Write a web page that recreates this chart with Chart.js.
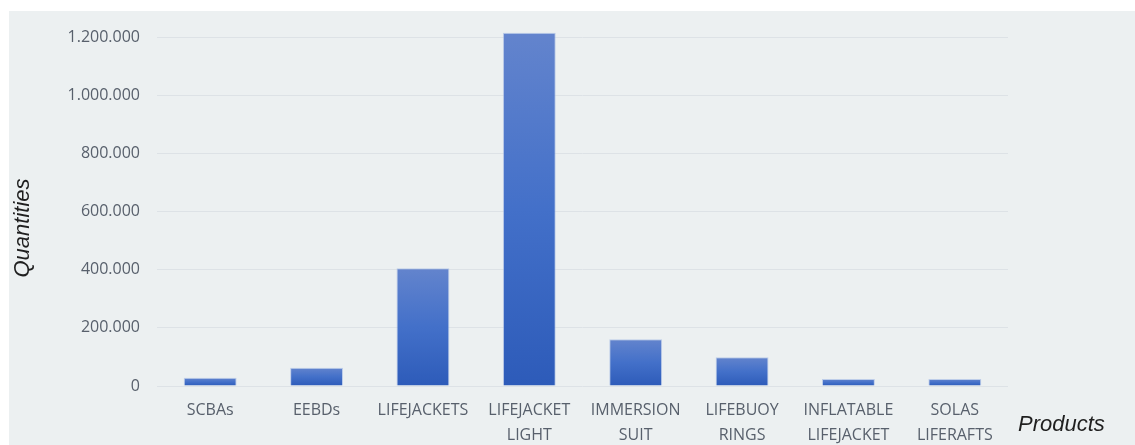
<!DOCTYPE html>
<html>
<head>
<meta charset="utf-8">
<title>Products - Quantities</title>
<script src="https://cdn.jsdelivr.net/npm/chart.js@4"></script>
<style>
  html, body { margin: 0; padding: 0; background: #ffffff; }
  .panel {
    position: absolute;
    left: 9px; top: 11px;
    width: 1126px; height: 434px;
    background: #ecf0f1;
  }
</style>
</head>
<body>
<div class="panel"><canvas id="qtyChart" width="1126" height="434"></canvas></div>
<script>
// Data
const products = [
    'SCBAs', 'EEBDs', 'LIFEJACKETS', ['LIFEJACKET', 'LIGHT'], ['IMMERSION', 'SUIT'],
    ['LIFEBUOY', 'RINGS'], ['INFLATABLE', 'LIFEJACKET'], ['SOLAS', 'LIFERAFTS']
];
const quantities = [28000, 63000, 405000, 1215000, 161000, 99000, 24000, 24000];
const yTicks = [0, 200000, 400000, 600000, 800000, 1000000, 1200000];

const fmt = v => String(v).replace(/\B(?=(\d{3})+(?!\d))/g, '.');

// Vertical gradient per bar, light at the top, darker at the base
function barGradient(context) {
    const chart = context.chart;
    if (!chart.chartArea) return '#4472c4';
    const y = chart.scales.y;
    const top = y.getPixelForValue(context.raw);
    const base = y.getPixelForValue(0);
    const g = chart.ctx.createLinearGradient(0, top, 0, base);
    g.addColorStop(0, '#6384cd');
    g.addColorStop(0.5, '#4370c9');
    g.addColorStop(1, '#2d5bb9');
    return g;
}

// Axis titles sit outside the usual spots, drawn by hand
const axisTitles = {
    id: 'axisTitles',
    afterDraw(chart) {
        const { ctx, chartArea } = chart;
        ctx.save();
        ctx.fillStyle = '#1f1f1f';
        ctx.font = 'italic 22px "Liberation Sans", Arial, sans-serif';
        ctx.textBaseline = 'middle';
        ctx.textAlign = 'left';
        ctx.fillText('Products', chartArea.right + 10, chartArea.bottom + 39);
        ctx.translate(14, 217);
        ctx.rotate(-Math.PI / 2);
        ctx.textAlign = 'center';
        ctx.fillText('Quantities', 0, 0);
        ctx.restore();
    }
};

const ctx = document.getElementById('qtyChart').getContext('2d');
const qtyChart = new Chart(ctx, {
    type: 'bar',
    data: {
        labels: products,
        datasets: [{
            label: 'Quantities',
            data: quantities,
            backgroundColor: barGradient,
            borderColor: 'rgba(170, 190, 230, 0.7)',
            borderWidth: 1,
            barPercentage: 0.7,
            categoryPercentage: 0.71
        }]
    },
    options: {
        responsive: false,
        animation: false,
        layout: { padding: { top: 11.5, right: 127, bottom: 0, left: 0 } },
        scales: {
            x: {
                grid: { display: false },
                border: { display: false },
                ticks: {
                    color: '#58606c',
                    font: { family: '"Open Sans", sans-serif', size: 16, lineHeight: 1.55 },
                    padding: 4,
                    maxRotation: 0,
                    autoSkip: false
                },
                afterFit: axis => { axis.height = 59; }
            },
            y: {
                min: 0,
                max: 1250000,
                afterBuildTicks: axis => { axis.ticks = yTicks.map(v => ({ value: v })); },
                grid: { color: '#dde2e6', drawTicks: false, lineWidth: 1 },
                border: { display: false },
                ticks: {
                    color: '#58606c',
                    font: { family: '"Open Sans", sans-serif', size: 16 },
                    padding: 17,
                    callback: v => fmt(v)
                },
                afterFit: axis => {
                    axis.width = 148;
                    axis.paddingTop = 0;
                    axis.paddingBottom = 0;
                }
            }
        },
        plugins: {
            legend: { display: false },
            tooltip: { enabled: false }
        }
    },
    plugins: [axisTitles]
});
</script>
</body>
</html>
